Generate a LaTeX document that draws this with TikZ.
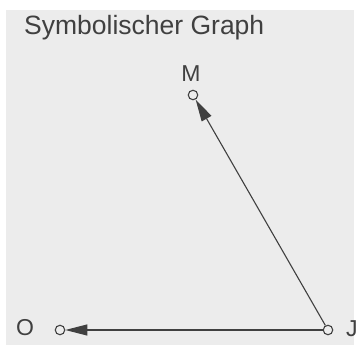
\documentclass[tikz,border=0pt]{standalone}
\usepackage{fontspec}
\setmainfont{Liberation Sans}
\usetikzlibrary{arrows.meta}
\definecolor{ink}{HTML}{404040}
\definecolor{paper}{HTML}{ECECEC}
\begin{document}
\begin{tikzpicture}[x=1pt,y=-1pt,
  vertex/.style={circle,draw=ink,line width=1.1pt,inner sep=0pt,minimum size=9.5pt,fill=paper},
  lbl/.style={text=ink,font=\fontsize{23}{26}\selectfont,inner sep=0pt},
  edge/.style={draw=ink,line width=1.1pt,-{Triangle[length=22pt,width=11pt]}}]
\useasboundingbox (0,0) rectangle (360,345);
\fill[paper] (6,10) rectangle (354,345);
\node[lbl,anchor=base west,font=\fontsize{26.5}{30}\selectfont] (title) at (24,35) {Symbolischer Graph};
\node[vertex] (M) at (193,95) {};
\node[vertex] (O) at (60,330) {};
\node[vertex] (J) at (328,330) {};
\node[lbl] (Ml) at (191,73.5) {M};
\node[lbl] (Ol) at (25,328) {O};
\node[lbl] (Jl) at (352,329) {J};
\draw[edge] (J) -- (M);
\draw[edge] (J) -- (O);
\end{tikzpicture}
\end{document}
